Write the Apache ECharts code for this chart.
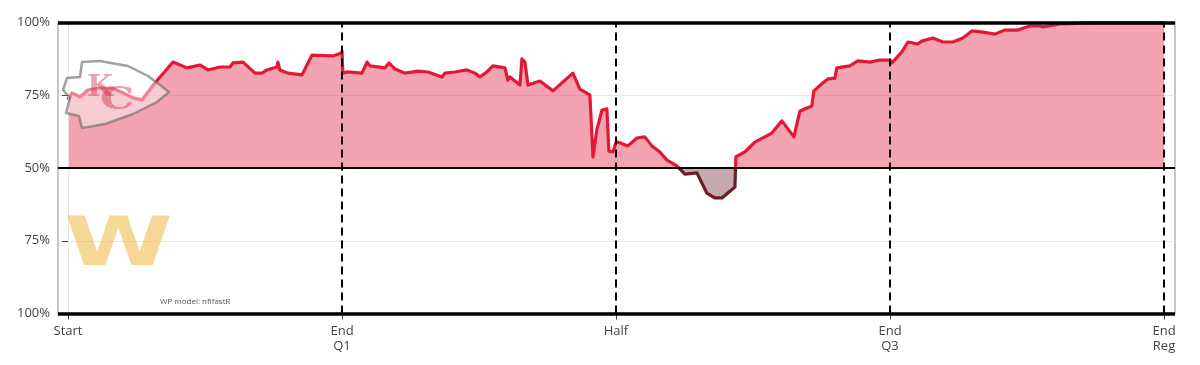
<!DOCTYPE html>
<html><head><meta charset="utf-8">
<script src="https://cdn.jsdelivr.net/npm/echarts@6/dist/echarts.min.js"></script>
<style>html,body{margin:0;padding:0;background:#fff}#c{width:1200px;height:365px}</style>
</head><body><div id="c"></div>
<script>
// game clock in elapsed minutes (0 = Start, 60 = End Reg)
const gameMinutes = [0,0.22,0.66,1.09,1.75,2.41,3.01,3.56,4.05,4.76,
  5.75,6.51,7.22,7.66,8.32,8.87,9.03,9.58,10.24,10.62,
  10.89,11.44,11.49,11.60,12.04,12.81,13.36,14.50,14.97,15.0,
  15.05,15.27,16.09,16.37,16.53,17.35,17.57,17.90,18.45,19.16,
  19.70,20.47,20.63,21.18,21.84,22.28,22.55,22.93,23.26,23.92,
  24.08,24.19,24.74,24.85,25.01,25.18,25.83,26.55,27.64,28.02,
  28.57,28.74,28.95,29.23,29.50,29.61,29.83,29.99,30.10,30.65,
  31.14,31.58,31.96,32.40,32.79,33.33,33.77,34.43,34.97,35.41,
  35.80,36.51,36.56,37.05,37.60,38.53,39.08,39.74,40.07,40.72,
  40.83,41.32,41.60,41.98,42.09,42.80,43.24,43.90,44.44,44.99,
  45.10,45.65,45.98,46.52,46.74,47.35,47.89,48.44,48.99,49.48,
  50.08,50.74,51.29,52.00,52.65,53.20,53.37,54.30,55.23,56.10,
  60];
// Kansas City win probability
const kcWinProb = [0.734,0.758,0.744,0.768,0.775,0.775,0.758,0.741,0.734,0.792,
  0.864,0.844,0.854,0.837,0.847,0.847,0.861,0.864,0.826,0.826,
  0.837,0.847,0.864,0.837,0.826,0.820,0.888,0.885,0.895,0.902,
  0.826,0.830,0.826,0.864,0.851,0.844,0.861,0.840,0.826,0.833,
  0.830,0.813,0.826,0.830,0.837,0.826,0.813,0.830,0.851,0.844,
  0.802,0.813,0.785,0.875,0.864,0.785,0.799,0.765,0.826,0.771,
  0.751,0.538,0.631,0.699,0.703,0.558,0.555,0.586,0.589,0.576,
  0.603,0.607,0.576,0.555,0.527,0.507,0.479,0.483,0.414,0.397,
  0.397,0.435,0.538,0.555,0.589,0.620,0.662,0.607,0.696,0.713,
  0.765,0.792,0.806,0.809,0.844,0.851,0.868,0.864,0.871,0.871,
  0.861,0.899,0.933,0.926,0.936,0.947,0.933,0.933,0.947,0.971,
  0.967,0.960,0.974,0.974,0.988,0.988,0.985,0.995,0.997,0.999,
  0.999];
const xTickValues = [0, 15, 30, 45, 60];
const xTickLabels = ['Start', 'End\nQ1', 'Half', 'End\nQ3', 'End\nReg'];
const periodEnds = [15, 30, 45, 60];
const yTickValues = [0, 0.25, 0.5, 0.75, 1];
const yTickLabels = ['100%', '75%', '50%', '75%', '100%'];

const chart = echarts.init(document.getElementById('c'), null, {renderer: 'canvas'});
const seriesData = gameMinutes.map((m, i) => [m, kcWinProb[i]]);
const FONT = 'Open Sans';
const GTOP = 22.5, GBOTTOM = 51.5, H = 365;

// colour split at the 50% line (global gradient in pixel space of the grid)
function split(cTop, cBottom) {
  return new echarts.graphic.LinearGradient(0, GTOP, 0, H - GBOTTOM, [
    {offset: 0, color: cTop}, {offset: 0.5, color: cTop},
    {offset: 0.5, color: cBottom}, {offset: 1, color: cBottom}], true);
}

const markData = [];
periodEnds.forEach(v => markData.push({xAxis: v, lineStyle: {color: '#000', width: 2, type: [8, 5]}}));
markData.push({xAxis: 0, lineStyle: {color: '#e6e6e6', width: 1, type: 'solid'}});
markData.push({yAxis: 1, lineStyle: {color: '#000', width: 3.5, type: 'solid'}});
markData.push({yAxis: 0, lineStyle: {color: '#000', width: 3.5, type: 'solid'}});
markData.push({yAxis: 0.5, lineStyle: {color: '#000', width: 2, type: 'solid'}});

chart.setOption({
  animation: false,
  backgroundColor: '#fff',
  grid: {left: 58, right: 25, top: GTOP, bottom: GBOTTOM, show: true, borderColor: '#b4b4b4', borderWidth: 1.5, backgroundColor: 'transparent'},
  xAxis: {
    type: 'value', min: -0.547, max: 60.6,
    axisLine: {show: false},
    splitLine: {show: false},
    axisTick: {show: true, customValues: xTickValues, length: 6, lineStyle: {color: '#444', width: 1}},
    axisLabel: {customValues: xTickValues, margin: 10, color: '#444', fontSize: 13, fontFamily: FONT, lineHeight: 15,
      formatter: v => { const i = xTickValues.indexOf(v); return i >= 0 ? xTickLabels[i] : ''; }}
  },
  yAxis: {
    type: 'value', min: 0, max: 1, interval: 0.25,
    axisLine: {show: false},
    axisTick: {show: true, length: 6, lineStyle: {color: '#444', width: 1}},
    splitLine: {show: true, lineStyle: {color: '#e8e8e8', width: 1}},
    axisLabel: {margin: 8, color: '#444', fontSize: 13, fontFamily: FONT,
      formatter: v => { const i = yTickValues.indexOf(v); return i >= 0 ? yTickLabels[i] : ''; }}
  },
  series: [{
    type: 'line', data: seriesData, showSymbol: false, symbol: 'none',
    lineStyle: {width: 3.2, join: 'round', color: split('#e31837', '#6b1d2a')},
    areaStyle: {origin: 0.5, opacity: 1, color: split('rgba(227,24,55,0.4)', 'rgba(107,29,42,0.38)')},
    markLine: {silent: true, symbol: ['none', 'none'], label: {show: false}, animation: false, data: markData}
  }],
  graphic: [
    {type: 'polygon', z: 20, silent: true,
      shape: {points: [[82,62],[100,61],[128,66],[148,76],[169,92],[157,102],[133,114],[105,124],[82,128],[79,116],[66,113],[70,98],[63,90],[67,78],[80,77]]},
      style: {fill: 'rgba(255,255,255,0.45)', stroke: 'rgba(110,110,110,0.65)', lineWidth: 2.5, lineJoin: 'round'}},
    {type: 'text', z: 21, silent: true, x: 87, y: 88,
      style: {text: 'K', font: 'bold 30px "DejaVu Serif"', fill: 'rgba(200,30,55,0.4)', verticalAlign: 'middle', align: 'left'}},
    {type: 'text', z: 21, silent: true, x: 100, y: 101, scaleX: 1.35,
      style: {text: 'C', font: 'bold 32px "DejaVu Serif"', fill: 'rgba(200,30,55,0.4)', verticalAlign: 'middle', align: 'left'}},
    {type: 'text', z: 20, silent: true, x: 64, y: 213, scaleX: 1.45,
      style: {text: 'W', font: '900 68px "DejaVu Sans"', fill: 'rgba(240,190,80,0.6)', verticalAlign: 'top', align: 'left'}},
    {type: 'text', z: 20, silent: true, x: 160, y: 302,
      style: {text: 'WP model: nflfastR', font: '8px "Open Sans"', fill: '#555', verticalAlign: 'middle', align: 'left'}}
  ]
});
</script>
</body></html>
